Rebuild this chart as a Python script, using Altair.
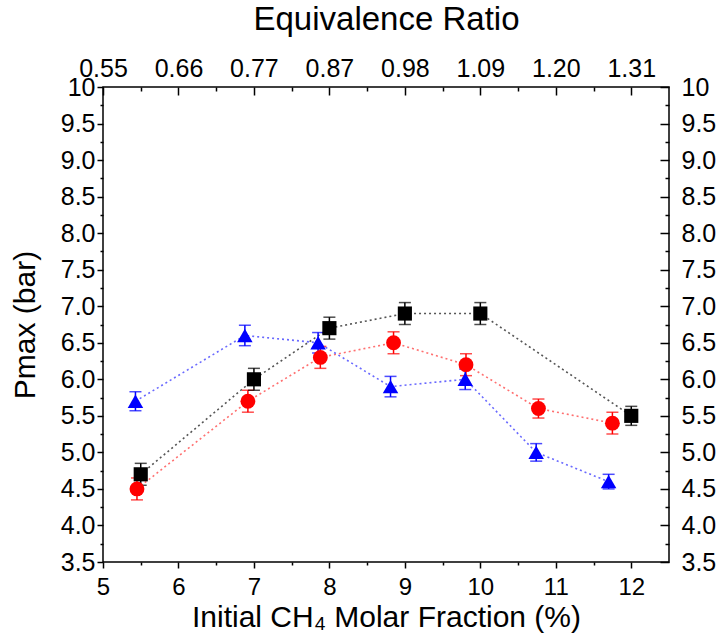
import json
import altair as alt
import pandas as pd

# ---- data ----
black_x = [5.5, 7.0, 8.0, 9.0, 10.0, 12.0]
black_y = [4.7, 6.0, 6.7, 6.9, 6.9, 5.5]
black_err = [0.15, 0.15, 0.15, 0.15, 0.15, 0.13]

red_x = [5.45, 6.92, 7.88, 8.85, 9.81, 10.77, 11.75]
red_y = [4.5, 5.7, 6.3, 6.5, 6.2, 5.6, 5.4]
red_err = [0.15, 0.15, 0.15, 0.15, 0.15, 0.13, 0.15]

blue_x = [5.43, 6.88, 7.85, 8.81, 9.8, 10.74, 11.7]
blue_y = [5.7, 6.6, 6.5, 5.9, 6.0, 5.0, 4.6]
blue_err = [0.13, 0.14, 0.14, 0.14, 0.14, 0.12, 0.1]

series_names = ["black", "red", "blue"]

x_ticks = [5, 6, 7, 8, 9, 10, 11, 12]
x_minor = [5.5, 6.5, 7.5, 8.5, 9.5, 10.5, 11.5]
phi_labels = ["0.55", "0.66", "0.77", "0.87", "0.98", "1.09", "1.20", "1.31"]
y_ticks = [3.5, 4.0, 4.5, 5.0, 5.5, 6.0, 6.5, 7.0, 7.5, 8.0, 8.5, 9.0, 9.5, 10.0]
y_minor = [3.75, 4.25, 4.75, 5.25, 5.75, 6.25, 6.75, 7.25, 7.75, 8.25, 8.75, 9.25, 9.75]

rows = []
for name, xs, ys, es in [("black", black_x, black_y, black_err),
                         ("red", red_x, red_y, red_err),
                         ("blue", blue_x, blue_y, blue_err)]:
    for i, (xv, yv, ev) in enumerate(zip(xs, ys, es)):
        rows.append({"series": name, "order": i, "x": xv, "y": yv,
                     "lo": yv - ev, "hi": yv + ev})
df = pd.DataFrame(rows)

W, H = 566, 475
FONT = "Liberation Sans"

xs = alt.Scale(domain=[5, 12.5], nice=False, zero=False)
ys = alt.Scale(domain=[3.5, 10], nice=False, zero=False)

mark_colors = alt.Scale(domain=series_names, range=["#000000", "#ff0000", "#0000ff"])
line_colors = alt.Scale(domain=series_names, range=["#555555", "#ff7070", "#6a6aff"])
shapes = alt.Scale(domain=series_names, range=["square", "circle", "triangle-up"])
sizes = alt.Scale(domain=series_names, range=[200, 240, 300])

ylab = "datum.value == 10 ? '10' : format(datum.value, '.1f')"
phi_expr = json.dumps(phi_labels) + "[round(datum.value - 5)]"

# axes
ax_bottom = alt.Axis(orient="bottom", values=x_ticks, tickSize=6, labelPadding=7,
                     labelFontSize=24,
                     title="Initial CH\u2084 Molar Fraction (%)", titlePadding=3, format="d")
ax_bottom_minor = alt.Axis(orient="bottom", values=x_minor, tickSize=3, labels=False, title=None)
ax_top = alt.Axis(orient="top", values=x_ticks, ticks=False, tickSize=0, labelPadding=6,
                  labelExpr=phi_expr, title="Equivalence Ratio", titlePadding=20,
                  titleFontSize=33)
ax_top_in = alt.Axis(orient="bottom", offset=-H, values=x_ticks, tickSize=8, labels=False, title=None)
ax_top_in_minor = alt.Axis(orient="bottom", offset=-H, values=x_minor, tickSize=4, labels=False, title=None)

ay_left = alt.Axis(orient="left", values=y_ticks, tickSize=6, labelPadding=2, labelExpr=ylab,
                   title="Pmax (bar)", titlePadding=20)
ay_left_minor = alt.Axis(orient="left", values=y_minor, tickSize=3, labels=False, title=None)
ay_right = alt.Axis(orient="right", values=y_ticks, ticks=False, tickSize=0, labelPadding=12,
                    labelExpr=ylab, title=None)
ay_right_in = alt.Axis(orient="left", offset=-W, values=y_ticks, tickSize=9, labels=False, title=None)
ay_right_in_minor = alt.Axis(orient="left", offset=-W, values=y_minor, tickSize=4, labels=False, title=None)

base = alt.Chart(df)

lines = base.mark_line(strokeDash=[2, 3], strokeWidth=1.6).encode(
    x=alt.X("x:Q", scale=xs, axis=ax_bottom),
    y=alt.Y("y:Q", scale=ys, axis=ay_left),
    color=alt.Color("series:N", scale=line_colors, legend=None),
    detail="series:N",
    order="order:Q",
)

bars = base.mark_rule(strokeWidth=1.5).encode(
    x=alt.X("x:Q", scale=xs, axis=ax_bottom_minor),
    y=alt.Y("lo:Q", scale=ys, axis=ay_left_minor),
    y2="hi:Q",
    color=alt.Color("series:N", scale=mark_colors, legend=None),
)

caps_hi = base.mark_tick(orient="horizontal", size=12, thickness=1.5).encode(
    x=alt.X("x:Q", scale=xs, axis=ax_top),
    y=alt.Y("hi:Q", scale=ys, axis=ay_right),
    color=alt.Color("series:N", scale=mark_colors, legend=None),
)

caps_lo = base.mark_tick(orient="horizontal", size=12, thickness=1.5).encode(
    x=alt.X("x:Q", scale=xs, axis=ax_top_in),
    y=alt.Y("lo:Q", scale=ys, axis=ay_right_in),
    color=alt.Color("series:N", scale=mark_colors, legend=None),
)

points = base.mark_point(filled=True, opacity=1).encode(
    x=alt.X("x:Q", scale=xs, axis=ax_top_in_minor),
    y=alt.Y("y:Q", scale=ys, axis=ay_right_in_minor),
    color=alt.Color("series:N", scale=mark_colors, legend=None),
    shape=alt.Shape("series:N", scale=shapes, legend=None),
    size=alt.Size("series:N", scale=sizes, legend=None),
)

chart = alt.layer(lines, bars, caps_hi, caps_lo, points).resolve_scale(
    x="shared", y="shared", color="independent"
).resolve_axis(
    x="independent", y="independent"
).properties(
    width=W, height=H,
    autosize=alt.AutoSizeParams(type="none"),
    padding={"left": 103, "top": 87, "right": 721 - 103 - W, "bottom": 643 - 87 - H},
).configure_view(
    stroke="black", strokeWidth=1.5
).configure_axis(
    grid=False, domain=False, tickColor="black", tickWidth=1.5,
    labelFont=FONT, labelFontSize=25, labelColor="black",
    titleFont=FONT, titleFontSize=30, titleColor="black", titleFontWeight="normal",
    labelFlush=False, labelOverlap=False,
)

chart.save("out.html", embed_options={"renderer": "svg", "actions": False})
